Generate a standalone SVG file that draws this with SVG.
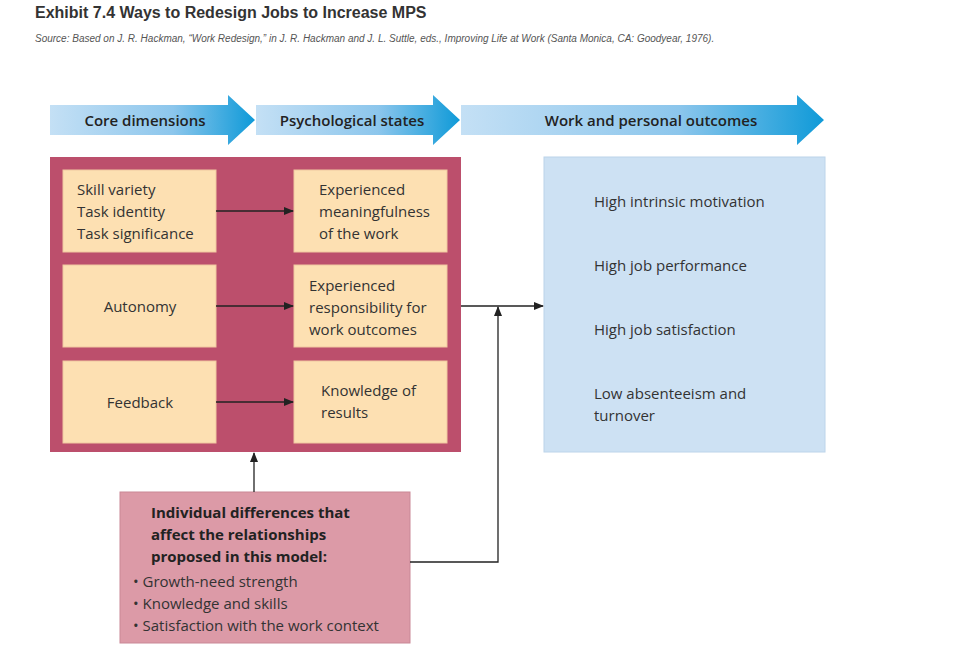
<svg xmlns="http://www.w3.org/2000/svg" width="964" height="669" viewBox="0 0 964 669">
<style>
.t{font-family:"Liberation Sans",Arial,sans-serif}
.b{font-family:"Open Sans","Liberation Sans",sans-serif;font-size:15px;fill:#333}
.h{font-family:"Open Sans","Liberation Sans",sans-serif;font-size:15px;fill:#222;font-weight:600}
.c{fill:#fde0b2;stroke:#f0c8a0}
.l{stroke:#222;stroke-width:1.3;fill:none}
</style>
<defs>
<linearGradient id="g" x1="0" x2="1"><stop offset="0" stop-color="#c4e0f5"/><stop offset="0.6" stop-color="#8cc6ec"/><stop offset="1" stop-color="#0f9ad8"/></linearGradient>
<marker id="a" markerWidth="10" markerHeight="8" refX="9" refY="4" orient="auto" markerUnits="userSpaceOnUse"><path d="M0,0L10,4L0,8z" fill="#222"/></marker>
</defs>
<rect width="964" height="669" fill="#fff"/>
<text x="35" y="18" class="t" font-size="16" font-weight="bold" fill="#333">Exhibit 7.4 Ways to Redesign Jobs to Increase MPS</text>
<text x="35" y="42" class="t" font-size="10" font-style="italic" fill="#555">Source: Based on J. R. Hackman, “Work Redesign,” in J. R. Hackman and J. L. Suttle, eds., Improving Life at Work (Santa Monica, CA: Goodyear, 1976).</text>
<g id="headers">
<path d="M50,105H228V95L255,120L228,145V135H50z" fill="url(#g)"/>
<text x="145" y="126" class="h" text-anchor="middle">Core dimensions</text>
<path d="M256,105H433V95L460,120L433,145V135H256z" fill="url(#g)"/>
<text x="352" y="126" class="h" text-anchor="middle">Psychological states</text>
<path d="M461,105H797V95L824,120L797,145V135H461z" fill="url(#g)"/>
<text x="651" y="126" class="h" text-anchor="middle">Work and personal outcomes</text>
</g>
<g id="core">
<rect x="50" y="157" width="411" height="295" fill="#bc4f6c"/>
</g>
<g id="n1"><rect x="63" y="170" width="153" height="82" class="c"/><text class="b"><tspan x="77" y="195">Skill variety</tspan><tspan x="77" y="217">Task identity</tspan><tspan x="77" y="239">Task significance</tspan></text></g>
<g id="n2"><rect x="63" y="265" width="153" height="82" class="c"/><text x="140" y="312" class="b" text-anchor="middle">Autonomy</text></g>
<g id="n3"><rect x="63" y="361" width="153" height="82" class="c"/><text x="140" y="408" class="b" text-anchor="middle">Feedback</text></g>
<g id="n4"><rect x="294" y="170" width="153" height="82" class="c"/><text class="b"><tspan x="319" y="195">Experienced</tspan><tspan x="319" y="217">meaningfulness</tspan><tspan x="319" y="239">of the work</tspan></text></g>
<g id="n5"><rect x="294" y="265" width="153" height="82" class="c"/><text class="b"><tspan x="309" y="291">Experienced</tspan><tspan x="309" y="313">responsibility for</tspan><tspan x="309" y="335">work outcomes</tspan></text></g>
<g id="n6"><rect x="294" y="361" width="153" height="82" class="c"/><text class="b"><tspan x="321" y="396">Knowledge of</tspan><tspan x="321" y="418">results</tspan></text></g>
<g id="outcomes"><rect x="544" y="157" width="281" height="295" fill="#cde1f3" stroke="#bcd4ea"/>
<text class="b"><tspan x="594" y="207">High intrinsic motivation</tspan><tspan x="594" y="271">High job performance</tspan><tspan x="594" y="335">High job satisfaction</tspan><tspan x="594" y="399">Low absenteeism and</tspan><tspan x="594" y="421">turnover</tspan></text></g>
<g id="individual"><rect x="120" y="492" width="290" height="151" fill="#dc9aa7" stroke="#c98896"/>
<text class="b"><tspan x="151" y="518" font-weight="bold" fill="#222">Individual differences that</tspan><tspan x="151" y="540" font-weight="bold" fill="#222">affect the relationships</tspan><tspan x="151" y="562" font-weight="bold" fill="#222">proposed in this model:</tspan><tspan x="133" y="587">• Growth-need strength</tspan><tspan x="133" y="609">• Knowledge and skills</tspan><tspan x="133" y="631">• Satisfaction with the work context</tspan></text></g>
<g id="connectors">
<path class="l" d="M216,211H293" marker-end="url(#a)"/>
<path class="l" d="M216,306H293" marker-end="url(#a)"/>
<path class="l" d="M216,402H293" marker-end="url(#a)"/>
<path class="l" d="M461,306H543" marker-end="url(#a)"/>
<path class="l" d="M410,562H498V307" marker-end="url(#a)"/>
<path class="l" d="M254,492V453" marker-end="url(#a)"/>
</g>
</svg>
